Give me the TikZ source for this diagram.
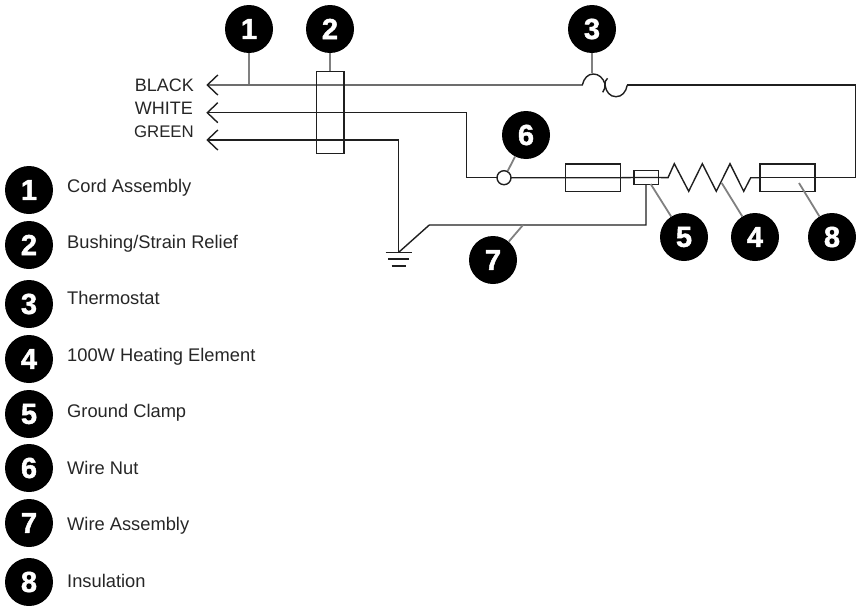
\documentclass[tikz,border=0pt]{standalone}
\usepackage{fontspec}
\setmainfont{Liberation Sans}
\newfontfamily\numfont[UprightFont=* Bold,UprightFeatures={FakeBold=1.6}]{Liberation Sans}
\tikzset{
 wire/.style={draw=black!88,line width=1.4pt,line join=miter},
 leader/.style={draw=black!50,line width=1.8pt},
 callout/.style={circle,fill=black,text=white,minimum size=48pt,inner sep=0pt,font=\numfont\fontsize{29}{29}\selectfont},
 wirelabel/.style={anchor=base east,font=\fontsize{18}{18}\selectfont,text=black!85,inner sep=0pt},
 legendlabel/.style={anchor=base west,font=\fontsize{18.3}{18}\selectfont,text=black!85,inner sep=0pt},
 hollow/.style={draw=black!88,line width=1.4pt},
}
\begin{document}
\begin{tikzpicture}[x=1pt,y=-1pt]
\useasboundingbox (0,0) rectangle (856,605);
% leader end points
\coordinate (c1a) at (249,83.5);
\coordinate (c2a) at (330,71);
\coordinate (c3a) at (592,73);
\coordinate (c6a) at (507.7,171);
\coordinate (c5a) at (650.7,184);
\coordinate (c4a) at (721.7,183);
\coordinate (c8a) at (799,183);
\coordinate (c7a) at (523,225);
% callouts
\node[callout] (c1) at (249,29) {1};
\node[callout] (c2) at (330,29) {2};
\node[callout] (c3) at (592,29) {3};
\node[callout] (c6) at (526,135) {6};
\node[callout] (c5) at (684,237) {5};
\node[callout] (c4) at (755,237) {4};
\node[callout] (c8) at (832,237) {8};
\node[callout] (c7) at (493,260) {7};
% legend
\foreach \n/\y/\t/\b in {1/190/Cord Assembly/192,2/245/Bushing\slash Strain Relief/248,3/304/Thermostat/304,4/359/100W Heating Element/361,5/414/Ground Clamp/417,6/468/Wire Nut/474,7/523/Wire Assembly/530,8/582/Insulation/587}{
  \node[callout] (l\n) at (29,\y) {\n};
  \node[legendlabel] (lt\n) at (67,\b) {\t};
}
% wire labels
\node[wirelabel] (wb) at (194,91) {BLACK};
\node[wirelabel] (ww) at (193,114) {WHITE};
\node[wirelabel,font=\fontsize{16.8}{18}\selectfont] (wg) at (194,137) {GREEN};
% boxes
\node[hollow,minimum width=27.5pt,minimum height=81.5pt,inner sep=0pt] (bush) at (330.3,112.5) {};
\node[hollow,minimum width=55pt,minimum height=27.5pt,inner sep=0pt] (ins1) at (593.2,177.7) {};
\node[hollow,minimum width=55pt,minimum height=27.5pt,inner sep=0pt] (ins2) at (787.5,177.7) {};
\node[hollow,minimum width=24.3pt,minimum height=14pt,inner sep=0pt] (clamp) at (646.2,177.5) {};
% arrow tips
\coordinate (tb) at (207.3,85);
\coordinate (tw) at (207.3,112.7);
\coordinate (tg) at (207.3,140);
\foreach \t in {tb,tw,tg}{
  \draw[wire] ([shift={(10.5,-10)}]\t) -- (\t) -- ([shift={(10.5,10)}]\t);
}
% wires
\coordinate (gnd) at (398.7,252.3);
\coordinate (therL) at (582.3,85);
\coordinate (therR) at (627.3,85);
\draw[wire] (tb) -- (therL) .. controls (584,78) and (588,74) .. (593.3,74) .. controls (599,74) and (603,78) .. (605,84) .. controls (605.3,87) and (604.5,90) .. (602.7,92.3);
\draw[wire] (607.5,78.3) .. controls (605.5,80) and (604.8,82) .. (605,85) .. controls (606,92) and (610,96.7) .. (616,96.7) .. controls (622,96.7) and (626,92) .. (therR);
\draw[wire] (therR) -- (855.7,85) -- (855.7,177.7) -- (ins2.east) -- (ins2.west);
\draw[wire] (tw) -- (466.7,112.7) -- (466.7,177.7) -- (497,177.7);
\draw[wire] (511,177.7) -- (ins1.west) -- (ins1.east) -- (clamp.west) -- (clamp.east) -- (668,177.7)
  -- (674.3,163.7) -- (688.7,191.3) -- (702.3,163.7) -- (716.3,191.3) -- (730,163.7) -- (743.7,191.3) -- (750.7,177.7) -- (ins2.west);
\node[hollow,circle,fill=white,minimum size=14pt,inner sep=0pt] (nut) at (504,177.7) {};
\draw[wire] (tg) -- (398.7,140) -- (gnd);
\draw[wire] (gnd) -- (429.3,225) -- (646,225) -- (646,184.5);
\draw[wire] (385.7,252.3) -- (412,252.3);
\draw[wire] (388.3,259) -- (409,259);
\draw[wire] (391.7,266) -- (405.7,266);
% leaders
\draw[leader] (c1) -- (c1a);
\draw[leader] (c2) -- (c2a);
\draw[leader] (c3) -- (c3a);
\draw[leader] (c6) -- (c6a);
\draw[leader] (c5) -- (c5a);
\draw[leader] (c4) -- (c4a);
\draw[leader] (c8) -- (c8a);
\draw[leader] (c7) -- (c7a);
\end{tikzpicture}
\end{document}
